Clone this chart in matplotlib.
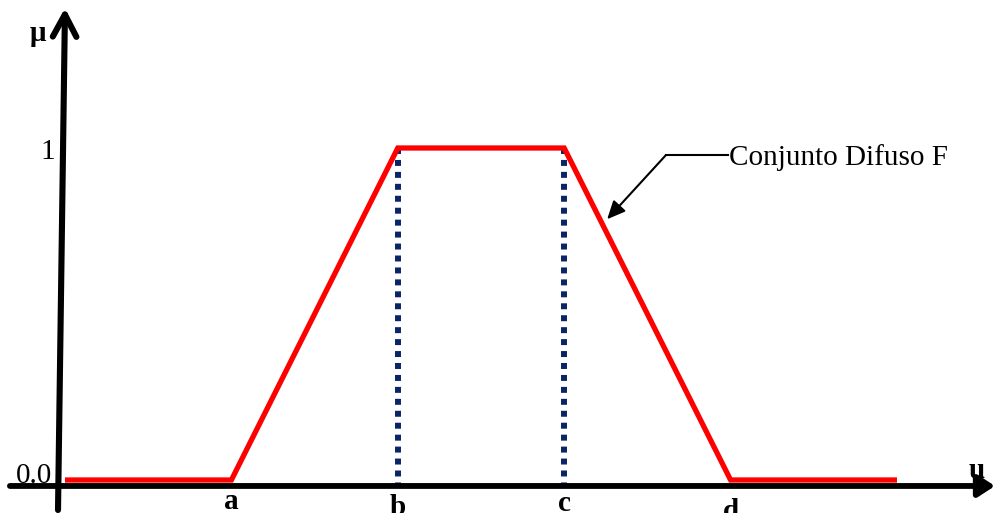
import matplotlib.pyplot as plt

plt.rcParams['font.family'] = ['Liberation Serif', 'DejaVu Serif']

# trapezoidal membership function F
u_vals = [1, 2, 3, 4, 5, 6]
mu_vals = [0, 0, 1, 1, 0, 0]
break_labels = ['a', 'b', 'c', 'd']
break_pos = [2, 3, 4, 5]
label_drop = [16.5, 21, 18, 24]   # pt below the u axis
core_pos = [3, 4]                 # b and c, where mu reaches 1
arrow_mu = 0.77                   # where the annotation points on the falling edge

RED = '#ff0000'
NAVY = '#0b2465'

fig = plt.figure(figsize=(9.95, 5.13), dpi=100)
ax = fig.add_axes([0, 0, 1, 1])
ax.set_xlim(0.6094, 6.589)
ax.set_ylim(-0.0994, 1.4458)
ax.axis('off')

axis_y = -0.018

# dotted guides from the plateau down to the axis
for x in core_pos:
    ax.plot([x, x], [max(mu_vals), axis_y + 0.006], color=NAVY, lw=4.3,
            linestyle=(0, (1, 1)), dash_capstyle='butt', zorder=2)

ax.plot(u_vals, mu_vals, color=RED, lw=3.8, solid_joinstyle='miter',
        solid_capstyle='butt', zorder=3)

# u axis
ax.annotate('', xy=(6.589, axis_y), xytext=(0.669, axis_y),
            arrowprops=dict(arrowstyle='-|>,head_length=10,head_width=6.5',
                            mutation_scale=1, lw=4.2, color='black',
                            shrinkA=0, shrinkB=0), zorder=4)
# mu axis (slightly leaning)
ax.annotate('', xy=(1.0, 1.4217), xytext=(0.958, -0.0904),
            arrowprops=dict(arrowstyle='->,head_length=16,head_width=8.5',
                            mutation_scale=1, lw=4.4, color='black',
                            capstyle='round', joinstyle='round',
                            shrinkA=0, shrinkB=0), zorder=4)

ax.text(0.8378, 1.3223, 'μ', fontsize=21, fontweight='bold', ha='center', va='baseline')
ax.text(6.481, 0.006, 'u', fontsize=21, fontweight='bold', ha='center', va='baseline')
ax.text(0.9399, 0.9669, '1', fontsize=21, ha='right', va='baseline')
ax.text(0.9219, -0.009, '0.0', fontsize=21, ha='right', va='baseline')

for lab, x, dy in zip(break_labels, break_pos, label_drop):
    ax.annotate(lab, xy=(x, axis_y), xytext=(0, -dy), textcoords='offset points',
                fontsize=21, fontweight='bold', ha='center', va='baseline',
                annotation_clip=False)

# annotation for the fuzzy set
c, d = core_pos[1], break_pos[3]
tx = c + (1 - arrow_mu) * (d - c)
elbow = (4.6118, 0.9789)
ax.plot([elbow[0], 4.9843], [elbow[1], elbow[1]], color='black', lw=1.5)
ax.annotate('', xy=(tx, arrow_mu), xytext=elbow,
            arrowprops=dict(arrowstyle='-|>,head_length=11,head_width=5',
                            mutation_scale=1, lw=1.5, color='black',
                            shrinkA=0, shrinkB=5))
ax.text(4.993, 0.9488, 'Conjunto Difuso F', fontsize=21, ha='left', va='baseline')

fig.savefig('out.png', dpi=100)
